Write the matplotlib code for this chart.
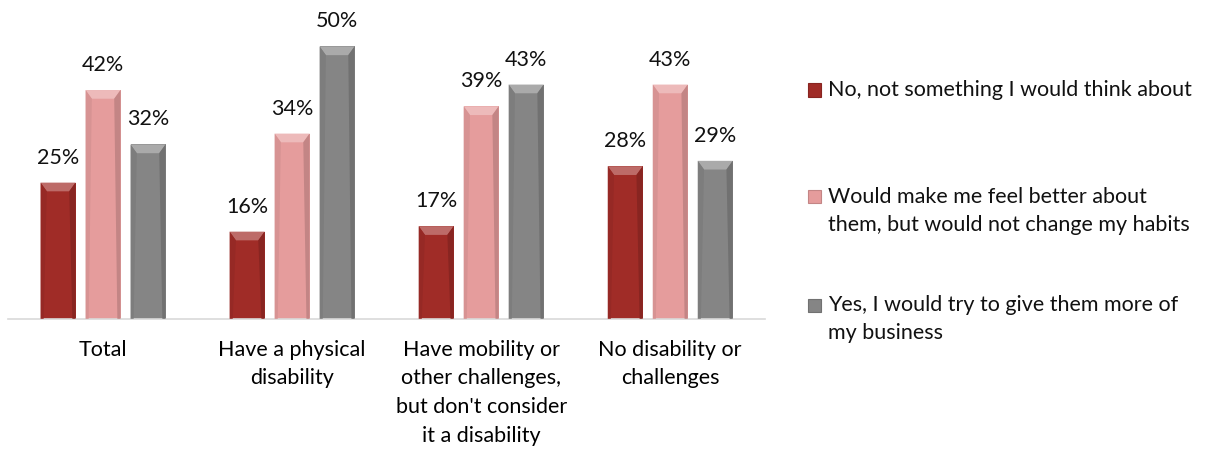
import matplotlib.pyplot as plt
import matplotlib.colors as mcolors
from matplotlib.patches import Polygon, Rectangle
import numpy as np

plt.rcParams['font.family'] = ['Lato', 'DejaVu Sans']

groups = ['Total', 'Have a physical\ndisability',
          "Have mobility or\nother challenges,\nbut don't consider\nit a disability",
          'No disability or\nchallenges']
series = ['No, not something I would think about',
          'Would make me feel better about\nthem, but would not change my habits',
          'Yes, I would try to give them more of\nmy business']
no_think = [25, 16, 17, 28]
feel_better = [42, 34, 39, 43]
more_business = [32, 50, 43, 29]
colors = ['#A02C27', '#E59C9C', '#858585']

W, H = 1212, 449
fig = plt.figure(figsize=(W / 100, H / 100), dpi=100)
ax = fig.add_axes([0.007, 0.29, 0.624, 0.70])

x = np.arange(len(groups))
width = 0.185
step = 0.238
fs = 15.5


def shades(color):
    base = np.array(mcolors.to_rgb(color))
    return base, np.clip(base + (1 - base) * 0.3, 0, 1), base * 0.85


def bevel(ax, rect, color):
    # light top cap and shaded sides to give the bar a raised look
    x0, y0 = rect.get_x(), rect.get_y()
    w, h = rect.get_width(), rect.get_height()
    cap = 1.6
    inset = w * 0.18
    base, light, dark = shades(color)
    ax.add_patch(Polygon([[x0, y0 + h], [x0 + w, y0 + h],
                          [x0 + w - inset, y0 + h - cap], [x0 + inset, y0 + h - cap]],
                         closed=True, facecolor=light, edgecolor='none', zorder=3))
    ax.add_patch(Polygon([[x0 + w, y0 + h], [x0 + w, y0],
                          [x0 + w - inset * 0.5, y0], [x0 + w - inset, y0 + h - cap]],
                         closed=True, facecolor=dark, edgecolor='none', zorder=3))
    ax.add_patch(Polygon([[x0, y0 + h], [x0, y0],
                          [x0 + inset * 0.5, y0], [x0 + inset, y0 + h - cap]],
                         closed=True, facecolor=base * 0.94, edgecolor='none', zorder=3))


for i, (vals, c) in enumerate(zip([no_think, feel_better, more_business], colors)):
    bars = ax.bar(x + (i - 1) * step, vals, width, color=c, zorder=2)
    for b, v in zip(bars, vals):
        bevel(ax, b, c)
        ax.text(b.get_x() + b.get_width() / 2, v + 4.6, f'{v}%',
                ha='center', va='center', fontsize=fs, color='#111111')

ax.set_xlim(-0.5, len(groups) - 0.5)
ax.set_ylim(0, 57.7)
ax.set_xticks(x)
ax.set_xticklabels(groups, fontsize=fs, linespacing=1.55)
ax.tick_params(axis='x', length=0, pad=15)
ax.set_yticks([])
for s in ['top', 'right', 'left']:
    ax.spines[s].set_visible(False)
ax.spines['bottom'].set_color('#D9D9D9')
ax.spines['bottom'].set_linewidth(1.2)

# legend drawn by hand: square marker beside first line of each entry
leg_x = 808
leg_rows = [90, 197, 305]
line_gap = 28
box = 13
for label, c, row in zip(series, colors, leg_rows):
    base, light, dark = shades(c)
    fig.add_artist(Rectangle(((leg_x) / W, 1 - (row + box / 2) / H), box / W, box / H,
                             transform=fig.transFigure, facecolor=base,
                             edgecolor=dark, linewidth=0.8))
    for k, line in enumerate(label.split('\n')):
        fig.text((leg_x + box + 7) / W, 1 - (row + k * line_gap) / H, line,
                 ha='left', va='center', fontsize=fs, color='#111111')

fig.savefig('out.png', dpi=100)
